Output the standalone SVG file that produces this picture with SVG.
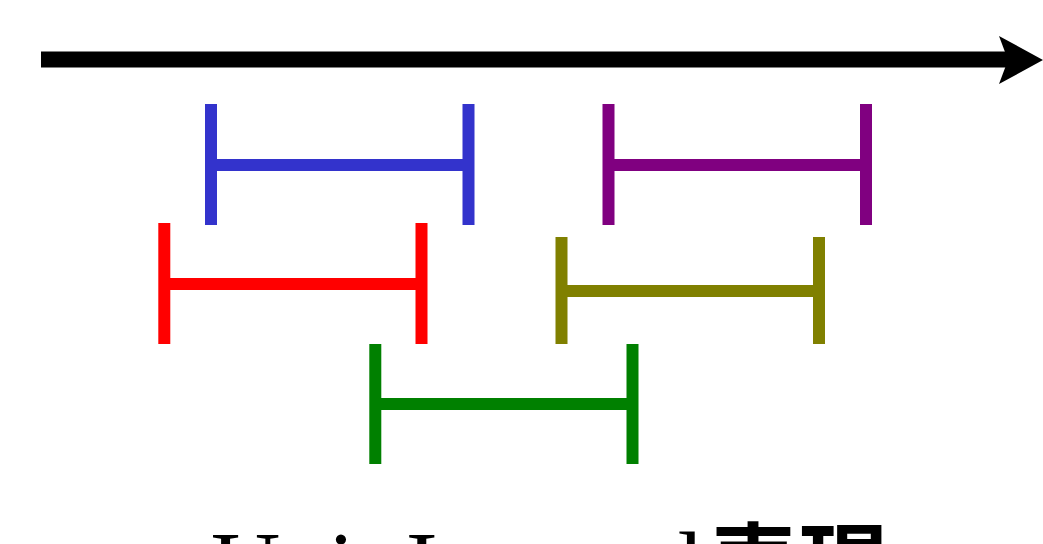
<svg xmlns="http://www.w3.org/2000/svg" width="1043" height="544" viewBox="0 0 1043 544">
<style>
.iv{fill:none;stroke-width:12;stroke-linecap:butt}
.lbl{font-family:"Liberation Serif","Noto Sans CJK JP",serif;font-size:96px;fill:#000}
.cjk{font-family:"Noto Sans CJK JP",sans-serif;font-size:90px;font-weight:bold}
</style>
<rect width="1043" height="544" fill="#fff"/>
<g id="connectors">
<line x1="41" y1="59.5" x2="1010" y2="59.5" stroke="#000" stroke-width="16"/>
<polygon points="999,36 1043,60 999,84 1008,60" fill="#000"/>
</g>
<g id="blue"><path class="iv" stroke="#3333cc" d="M211,104V225M468.5,104V225M211,165H468.5"/></g>
<g id="purple"><path class="iv" stroke="#800080" d="M608.5,104V225M866,104V225M608.5,165H866"/></g>
<g id="red"><path class="iv" stroke="#ff0000" d="M164.3,223V344M421.5,223V344M164.3,284H421.5"/></g>
<g id="olive"><path class="iv" stroke="#808000" d="M561.5,237V344M819,237V344M561.5,291H819"/></g>
<g id="green"><path class="iv" stroke="#008000" d="M375.3,344V464M632.5,344V464M375.3,404H632.5"/></g>
<g id="label"><text class="lbl" x="211" y="598">Unit Interval<tspan class="cjk" dx="4">表現</tspan></text></g>
</svg>
